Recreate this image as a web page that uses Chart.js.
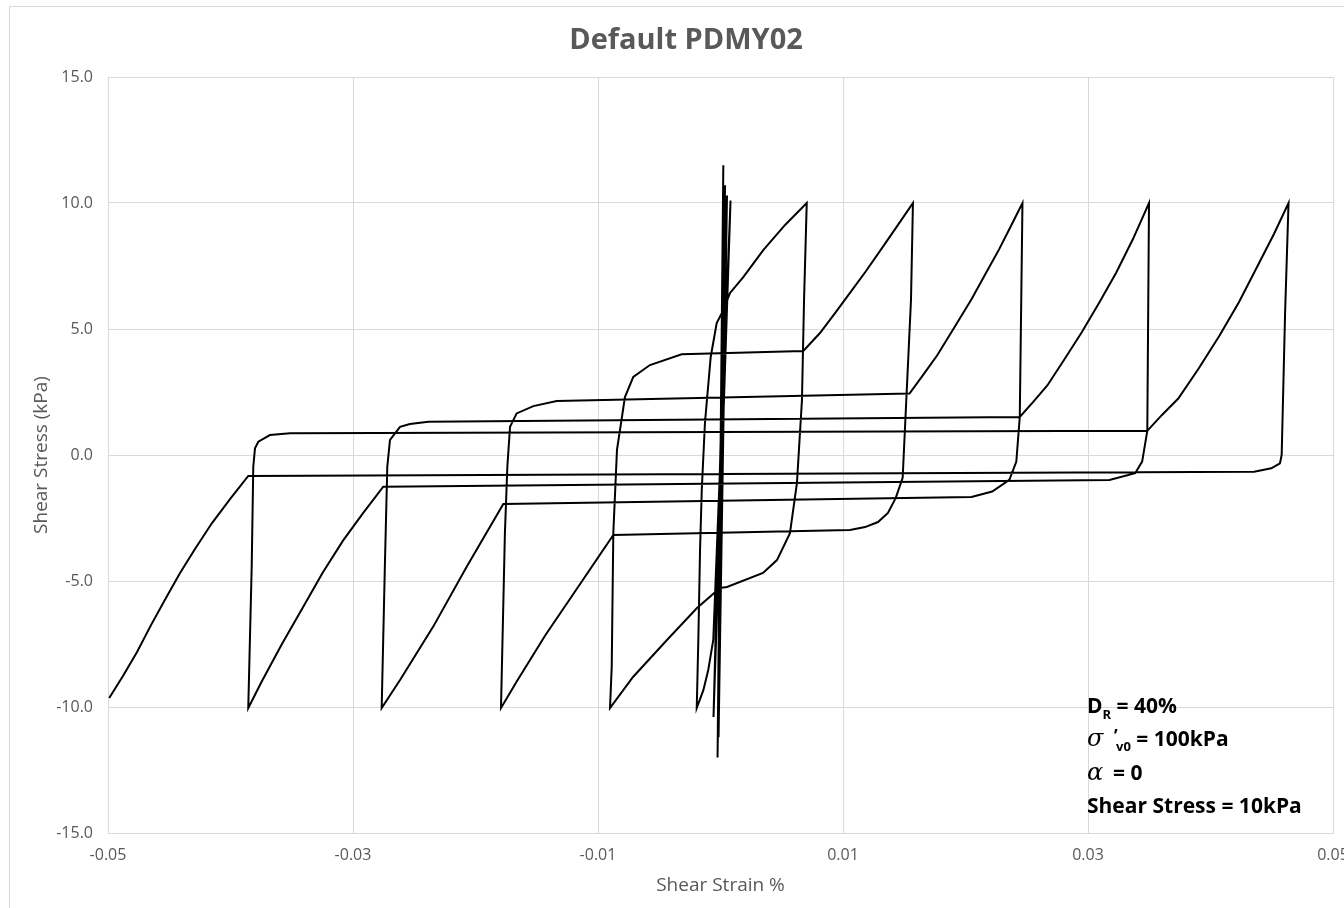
<!DOCTYPE html>
<html>
<head>
<meta charset="utf-8">
<script src="https://cdn.jsdelivr.net/npm/chart.js@4.4.0/dist/chart.umd.min.js"></script>
<style>
  html, body { margin: 0; padding: 0; background: #fff; }
  canvas { display: block; }
</style>
</head>
<body>
<canvas id="chartPdmy" width="1344" height="908"></canvas>
<script>
/* Default PDMY02 - cyclic shear, stress vs strain */

// tick labels
const xTickValues = [-0.05, -0.03, -0.01, 0.01, 0.03, 0.05];
const yTickValues = [-15, -10, -5, 0, 5, 10, 15];

// first small cycles (near zero strain) down to the first -10 kPa
const strainStart = [0, 0.00023, -0.00024, 0.00037, -0.00016, 0.00053, -0.00057, 0.00082, -0.00059, -0.001, -0.0014, -0.00194];
const stressStart = [0, 11.5, -12.0, 10.7, -11.2, 10.3, -10.4, 10.1, -7.34, -8.53, -9.33, -10.04];

// cycle 1
const strainLoad1 = [-0.00181, -0.00167, -0.00153, -0.00127, -0.0008, -0.00031, 0.00023, 0.00078, 0.00186, 0.00349, 0.00527, 0.00704];
const stressLoad1 = [-7.34, -3.77, -1.39, 1.27, 3.89, 5.24, 5.75, 6.43, 7.06, 8.13, 9.13, 10.0];
const strainUnload1 = [0.00682, 0.00665, 0.00624, 0.00567, 0.00461, 0.00347, 0.00053, -0.00004, -0.00192, -0.00437, -0.00714, -0.00902];
const stressUnload1 = [6.15, 2.18, -1.11, -3.1, -4.17, -4.68, -5.24, -5.28, -6.07, -7.34, -8.81, -10.04];

// cycle 2
const strainLoad2 = [-0.00888, -0.00875, -0.00845, -0.0078, -0.00712, -0.00576, -0.00317, 0.00676, 0.00812, 0.00935, 0.01057, 0.01188, 0.01318, 0.01449, 0.01571];
const stressLoad2 = [-8.4, -3.1, 0.2, 2.3, 3.1, 3.57, 4.0, 4.13, 4.84, 5.63, 6.43, 7.3, 8.21, 9.13, 10.0];
const strainUnload2 = [0.01555, 0.01487, 0.0143, 0.01367, 0.01286, 0.0118, 0.01057, -0.00875, -0.01153, -0.0143, -0.01661, -0.01792];
const stressUnload2 = [6.15, -0.91, -1.71, -2.3, -2.66, -2.86, -2.98, -3.17, -5.17, -7.15, -8.97, -10.04];

// cycle 3
const strainLoad3 = [-0.0176, -0.0174, -0.01718, -0.01664, -0.01528, -0.01337, 0.01543, 0.01653, 0.01768, 0.01906, 0.02049, 0.02167, 0.02274, 0.02371, 0.02465];
const stressLoad3 = [-3.11, -0.46, 1.12, 1.65, 1.94, 2.14, 2.44, 3.17, 3.95, 5.04, 6.18, 7.22, 8.16, 9.09, 10.0];
const strainUnload3 = [0.02443, 0.02415, 0.02358, 0.02218, 0.02049, -0.01773, -0.02072, -0.02345, -0.02616, -0.02766];
const stressUnload3 = [1.51, -0.26, -0.99, -1.45, -1.67, -1.94, -4.43, -6.81, -8.93, -10.04];

// cycle 4
const strainLoad4 = [-0.0274, -0.0272, -0.02698, -0.02616, -0.02535, -0.02385, 0.02443, 0.02551, 0.02668, 0.02804, 0.02949, 0.0309, 0.03231, 0.03367, 0.03498];
const stressLoad4 = [-4.43, -0.46, 0.6, 1.12, 1.23, 1.32, 1.51, 2.1, 2.76, 3.77, 4.87, 6.03, 7.24, 8.57, 10.0];
const strainUnload4 = [0.03484, 0.03442, 0.03385, 0.03175, -0.02753, -0.02918, -0.03083, -0.03249, -0.03414, -0.03579, -0.03745, -0.03855];
const stressUnload4 = [0.96, -0.26, -0.72, -0.99, -1.26, -2.31, -3.41, -4.68, -6.09, -7.49, -8.99, -10.04];

// cycle 5
const strainLoad5 = [-0.03827, -0.03814, -0.038, -0.03773, -0.03678, -0.03514, 0.03484, 0.03604, 0.03737, 0.03906, 0.04074, 0.04233, 0.04384, 0.04518, 0.04637];
const stressLoad5 = [-4.43, -0.46, 0.27, 0.53, 0.79, 0.86, 0.96, 1.59, 2.24, 3.45, 4.74, 6.07, 7.5, 8.77, 10.0];
const strainUnload5 = [0.04609, 0.04581, 0.04567, 0.04496, 0.04356, -0.03855, -0.04004, -0.04151, -0.0429, -0.04412, -0.04527, -0.04649, -0.04763, -0.04878, -0.0499];
const stressUnload5 = [5.66, 0, -0.33, -0.53, -0.66, -0.83, -1.75, -2.7, -3.73, -4.68, -5.67, -6.75, -7.82, -8.77, -9.64];

const branches = [
  [strainStart, stressStart],
  [strainLoad1, stressLoad1], [strainUnload1, stressUnload1],
  [strainLoad2, stressLoad2], [strainUnload2, stressUnload2],
  [strainLoad3, stressLoad3], [strainUnload3, stressUnload3],
  [strainLoad4, stressLoad4], [strainUnload4, stressUnload4],
  [strainLoad5, stressLoad5], [strainUnload5, stressUnload5]
];

let points = [];
branches.forEach(([xs, ys]) => {
  xs.forEach((x, i) => points.push({ x: x, y: ys[i] }));
});

const fontFamily = "'Open Sans', 'DejaVu Sans', sans-serif";
const textGray = '#595959';
const gridGray = '#d9d9d9';

/* marco del grafico y notas */
const frameAndNotes = {
  id: 'frameAndNotes',
  beforeDraw: (chart) => {
    const ctx = chart.ctx;
    ctx.save();
    ctx.fillStyle = '#ffffff';
    ctx.fillRect(0, 0, chart.width, chart.height);
    ctx.strokeStyle = gridGray;
    ctx.lineWidth = 1;
    ctx.strokeRect(9.5, 6.5, chart.width + 20, chart.height + 20);
    ctx.restore();
  },
  afterDraw: (chart) => {
    const ctx = chart.ctx;
    const bold = 'bold 21px ' + fontFamily;
    const greek = 'italic 24px "DejaVu Serif", serif';
    const small = 'bold 13px ' + fontFamily;
    const mark = 'bold 17px ' + fontFamily;
    const x0 = chart.chartArea.right - 246;
    // each run: text, font, x offset from x0 (or follow previous), y shift
    const lines = [
      { y: 713, runs: [{ t: 'D', f: bold }, { t: 'R', f: small, dy: 6 }, { t: ' = 40%', f: bold }] },
      { y: 746, runs: [{ t: '\u03C3', f: greek }, { t: '\u2019', f: mark, at: 27, dy: -4 }, { t: 'v0', f: small, at: 29, dy: 5 }, { t: ' = 100kPa', f: bold }] },
      { y: 780, runs: [{ t: '\u03B1', f: greek }, { t: '= 0', f: bold, at: 26 }] },
      { y: 813, runs: [{ t: 'Shear Stress = 10kPa', f: bold }] }
    ];
    ctx.save();
    ctx.fillStyle = '#000000';
    ctx.textBaseline = 'alphabetic';
    ctx.textAlign = 'left';
    lines.forEach((line) => {
      let x = x0;
      line.runs.forEach((r) => {
        ctx.font = r.f;
        if (r.at !== undefined) x = x0 + r.at;
        ctx.fillText(r.t, x, line.y + (r.dy || 0));
        x += ctx.measureText(r.t).width;
      });
    });
    ctx.restore();
  }
};

const ctx = document.getElementById('chartPdmy').getContext('2d');
const myChart = new Chart(ctx, {
  type: 'scatter',
  plugins: [frameAndNotes],
  data: {
    datasets: [
      {
        data: points,
        showLine: true,
        borderColor: '#000000',
        backgroundColor: '#000000',
        borderWidth: 2,
        pointRadius: 0,
        tension: 0,
      },
    ],
  },
  options: {
    responsive: false,
    animation: false,
    layout: {
      padding: { left: 28, right: 0, top: 0, bottom: 0 },
    },
    scales: {
      x: {
        type: 'linear',
        min: -0.05,
        max: 0.05,
        afterBuildTicks: (scale) => {
          scale.ticks = xTickValues.map((v) => ({ value: v }));
        },
        afterFit: (scale) => {
          scale.height = 75;
          scale.paddingLeft = 0;
          scale.paddingRight = 11;
        },
        ticks: {
          callback: (v) => Number(v).toFixed(2),
          color: textGray,
          font: { family: fontFamily, size: 16 },
          padding: 13,
          maxRotation: 0,
          autoSkip: false,
        },
        grid: { color: gridGray, drawTicks: false },
        border: { color: gridGray },
        title: {
          display: true,
          text: 'Shear Strain %',
          color: textGray,
          font: { family: fontFamily, size: 19 },
          padding: { top: 0, bottom: 11 },
        },
      },
      y: {
        type: 'linear',
        min: -15,
        max: 15,
        afterBuildTicks: (scale) => {
          scale.ticks = yTickValues.map((v) => ({ value: v }));
        },
        afterFit: (scale) => {
          scale.width = 80;
        },
        ticks: {
          callback: (v) => Number(v).toFixed(1),
          color: textGray,
          font: { family: fontFamily, size: 16 },
          padding: 15,
        },
        grid: { color: gridGray, drawTicks: false },
        border: { color: gridGray },
        title: {
          display: true,
          text: 'Shear Stress (kPa)',
          color: textGray,
          font: { family: fontFamily, size: 19 },
          padding: { top: 2, bottom: 0 },
        },
      },
    },
    plugins: {
      legend: { display: false },
      tooltip: { enabled: false },
      title: {
        display: true,
        text: 'Default PDMY02',
        color: textGray,
        font: { family: fontFamily, size: 29, weight: 'bold' },
        padding: { top: 23, bottom: 19.2 },
      },
    },
  },
});
</script>
</body>
</html>
